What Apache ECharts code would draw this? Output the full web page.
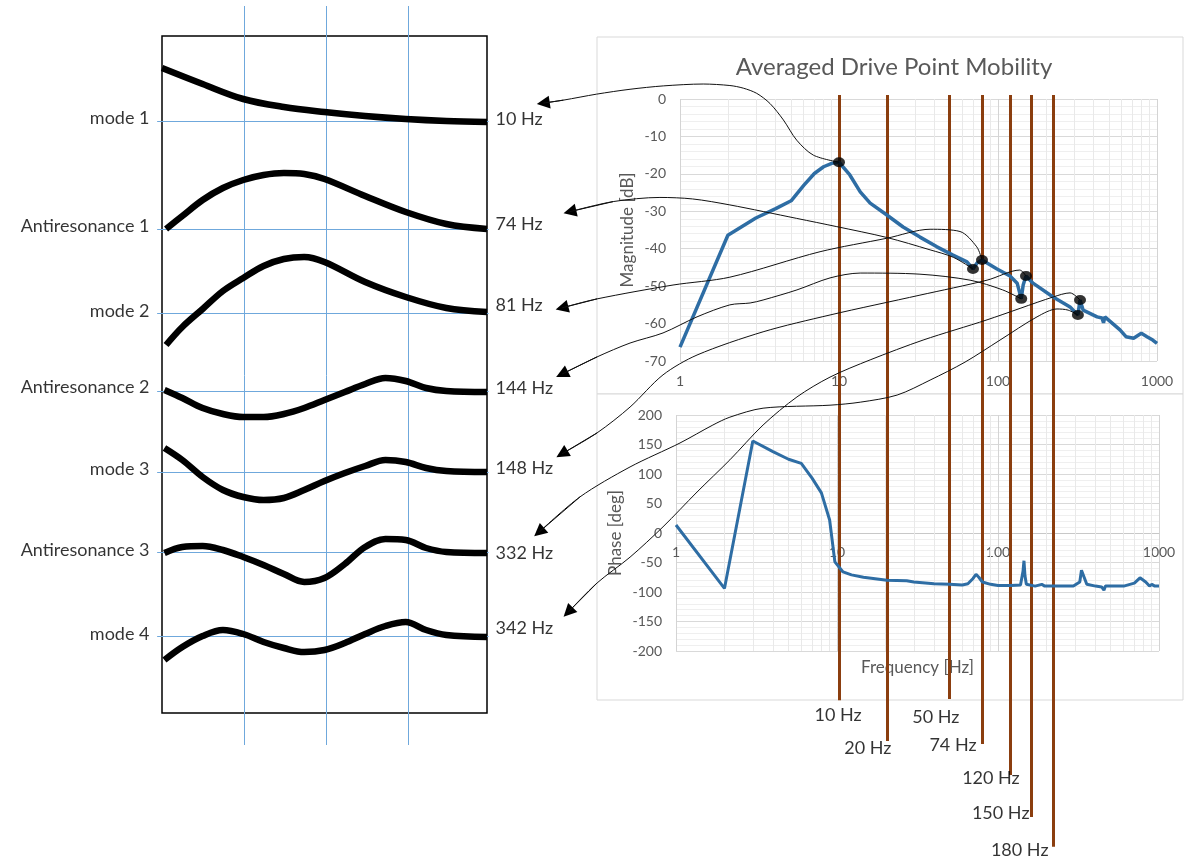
<!DOCTYPE html>
<html><head><meta charset="utf-8">
<script src="https://cdn.jsdelivr.net/npm/echarts@6/dist/echarts.min.js"></script>
<style>html,body{margin:0;padding:0;background:#fff}#c{width:1187px;height:858px}</style>
</head><body><div id="c"></div>
<script>
// ---------------- DATA ----------------
// Left panel: mode shapes (x along structure, displacement in panel units, up = positive)
const shapeNames = ['mode 1','Antiresonance 1','mode 2','Antiresonance 2','mode 3','Antiresonance 3','mode 4'];
const shapeFreqLabels = ['10 Hz','74 Hz','81 Hz','144 Hz','148 Hz','332 Hz','342 Hz'];
const shapeBaselines = [85,193,277,355,436,516,600];
const shapeNameRows  = [82,190,275,351,433,514,598];
const shapeFreqRows  = [83,188,269,352,432,517,592];
const gridLinesX = [1.01,2.02,3.03];
const xA = [0,0.5,1,1.5,2,2.5,3,3.5,4];
const xB = [0.05,0.25,0.5,0.75,1,1.25,1.5,1.75,2,2.5,3,3.5,4];
const xC = [0.03,0.25,0.5,0.75,1,1.25,1.5,1.75,2,2.25,2.5,2.75,3,3.25,3.5,4];
const mode1 = [53,37,22,14,9,5,2,0,-1];
const anti1 = [0,13,29,41,49,54,56,55,50,33,17,5,0];
const mode2 = [-32,-14,4,22,35,47,54,56,51,31,16,5,1];
const anti2 = [1,-7,-17,-23,-26,-26,-23,-17,-9,-1,7,13,10,3,0,-1];
const mode3 = [24,12,-5,-18,-25,-28,-26,-18,-9,-1,6,12,10,4,1,0];
const anti3 = [-1,5,6,2,-5,-13,-22,-30,-26,-12,5,13,12,4,0,-1];
const mode4 = [-24,-11,0,6,2,-6,-12,-16,-14,-7,2,10,14,6,1,-1];

// Right panel: averaged drive point mobility
const magFreq = [1,2,3,4,5,6,7,8,9,10,11.7,13.6,15.7,20,25.3,32.3,41.3,52.1,63.8,69.6,73.8,79.3,98.6,119,132,140,144,150,166,222,284,318,328,343,420,451,461,470,585,638,713,797,865,940,1000];
const magDb   = [-66.3,-36.4,-31.8,-29.3,-27.2,-23.1,-19.9,-18.1,-17.2,-16.9,-20.3,-24.8,-27.8,-31.0,-34.2,-36.9,-39.5,-41.7,-43.5,-45.4,-43.8,-43.0,-45.4,-47.3,-49.2,-53.4,-49.7,-47.3,-49.2,-52.9,-55.6,-57.7,-53.7,-56.4,-58.2,-58.5,-59.8,-58.2,-61.7,-63.5,-63.9,-62.6,-63.5,-64.4,-65.3];
const phFreq = [1,2,3,4,5,6,7,8,9,9.7,10.9,12.3,14.6,20.4,27.1,30,40,50,60,65,70,73,76,80,90,100,120,138,143,145,147,150,170,187,195,245,294,322,330,356,404,440,455,465,604,703,762,827,873,902,942,1000];
const phDeg  = [13.6,-94,156,138,125,118,93,68,22,-49,-66,-71,-75,-80,-81,-83,-86,-87,-88,-86,-77,-70,-75,-83,-87,-89,-89,-88,-65,-47,-72,-87,-90,-87,-90,-90,-90,-83,-63,-87,-90,-91.5,-97,-90,-90,-85,-76,-83,-90,-87,-90,-90];
const dotFreq = [10,69.6,79.3,140,150,318,328];
const minorFreq = [2,3,4,5,6,7,8,9,20,30,40,50,60,70,80,90,200,300,400,500,600,700,800,900];

// Marker lines (frequency) and their labels
const markerFreq  = [10,20,49.5,79.3,119,163,224];
const markerEndDb = [-160.6,-171.5,-160.3,-172.3,-180.6,-191.8,-199.8];
const markerLabels = ['10 Hz','20 Hz','50 Hz','74 Hz','120 Hz','150 Hz','180 Hz'];
const markerLabelAt = [[9.86,-164.6],[15.2,-173.4],[40.7,-165.1],[52.1,-172.6],[90.3,-181.4],[104,-190.8],[137,-200.6]];

// Connector paths [frequency, dB] from each dot to its label
const arrowTo10  = [[6.90,-15.0],[5.42,-11.0],[4.47,-5.6],[3.68,-1.2],[3.04,1.5],[2.50,2.9],[2.06,3.6],[1.40,4.0],[0.785,3.5],[0.485,2.6],[0.299,1.3],[0.185,-0.3],[0.138,-1.1]];
const arrowTo74  = [[52.4,-42.3],[37.4,-40.3],[20,-37],[9.68,-34.1],[5.42,-31.9],[2.06,-28.3],[1.2,-26.7],[0.748,-26.3],[0.381,-27.4],[0.203,-30.1]];
const arrowTo81  = [[73.5,-39.5],[57.7,-35.4],[37.4,-34.8],[20,-37.2],[7.6,-40.8],[2.06,-47.6],[0.904,-49.7],[0.301,-53.4],[0.181,-55.8]];
const arrowTo144 = [[107,-51.0],[66.7,-48.4],[32.3,-46.8],[13.6,-46.5],[8.78,-47.8],[5.44,-51.0],[3.33,-53.7],[2.76,-54.5],[2.06,-55.0],[1.28,-58.2],[0.782,-62.5],[0.485,-65.2],[0.301,-68.9],[0.181,-73.5]];
const arrowTo148 = [[137,-45.7],[85.3,-48.4],[32.3,-52.4],[8.78,-57.7],[3.33,-62.2],[1.28,-68.4],[0.782,-73.7],[0.485,-82.3],[0.301,-89.2],[0.181,-94.8]];
const arrowTo332 = [[276,-56.4],[235,-56.1],[176,-58.2],[103,-64.4],[62.0,-70.3],[37.4,-75.1],[23.2,-79.1],[13.6,-81.0],[8.78,-81.8],[3.33,-82.6],[2.06,-85.0],[1.61,-87.1],[1.0,-91.9],[0.485,-98.3],[0.235,-106.3],[0.130,-115.7]];
const arrowTo342 = [[284,-51.8],[222,-52.9],[85.3,-59.0],[33.8,-64.4],[15.7,-69.7],[8.78,-74.3],[5.44,-79.6],[3.33,-87.1],[2.06,-96.4],[1.28,-105.0],[0.782,-114.3],[0.485,-122.4],[0.301,-129.3],[0.198,-137.1]];

// ---------------- BUILD ----------------
const FONT = 'Lato, "Open Sans", sans-serif';
const GREY = '#595959';
const BLUE = '#2e6da4';
const zip = (a,b) => a.map((v,i)=>[v,b[i]]);
const magAt = f => magDb[magFreq.indexOf(f)];
const dots = dotFreq.map(f => [f, magAt(f)]);
const toDec = ([f,d]) => [Math.log10(f), d];   // overlay axis works in decades of frequency
const arrows = [arrowTo10,arrowTo74,arrowTo81,arrowTo144,arrowTo148,arrowTo332,arrowTo342]
  .map((p,i)=> [dots[i]].concat(p).map(toDec));

const shapes = [[xA,mode1],[xB,anti1],[xB,mode2],[xC,anti2],[xC,mode3],[xC,anti3],[xC,mode4]];
const OV = 5; // overlay axis index (same scale as magnitude plot, wider extent)

const series = [];
// minor vertical grid lines
series.push({type:'lines', coordinateSystem:'cartesian2d', xAxisIndex:3, yAxisIndex:3, silent:true, z:1,
  lineStyle:{color:'#e9e9e9', width:1, opacity:1}, data: minorFreq.map(f=>({coords:[[f,0],[f,-70]]}))});
series.push({type:'lines', coordinateSystem:'cartesian2d', xAxisIndex:4, yAxisIndex:4, silent:true, z:1,
  lineStyle:{color:'#e9e9e9', width:1, opacity:1}, data: minorFreq.map(f=>({coords:[[f,200],[f,-200]]}))});
// left panel blue guide lines
series.push({type:'lines', coordinateSystem:'cartesian2d', xAxisIndex:2, yAxisIndex:2, silent:true, z:1, clip:false,
  lineStyle:{color:'#6fa8dc', width:1, opacity:1}, data: gridLinesX.map(v=>({coords:[[v,-30],[v,709]]}))});
series.push({type:'lines', coordinateSystem:'cartesian2d', xAxisIndex:2, yAxisIndex:2, silent:true, z:1, clip:false,
  lineStyle:{color:'#6fa8dc', width:1, opacity:1}, data: shapeBaselines.map(b=>({coords:[[-0.06,b],[4.02,b]]}))});
// mode shapes
shapes.forEach(([xs,ds],i)=>{
  series.push({type:'line', xAxisIndex:2, yAxisIndex:2, smooth:0.35, symbol:'none', z:3, clip:false,
    lineStyle:{color:'#000', width:6.5, cap:'butt'},
    data: xs.map((x,k)=>[x, shapeBaselines[i]-ds[k]])});
});
// left / right labels
series.push({type:'scatter', xAxisIndex:2, yAxisIndex:2, symbolSize:1, clip:false, silent:true, itemStyle:{color:'transparent'},
  label:{show:true, position:'left', distance:12, formatter:'{b}', color:'#000', fontSize:18, fontFamily:FONT},
  data: shapeNames.map((n,i)=>({name:n, value:[0,shapeNameRows[i]]}))});
series.push({type:'scatter', xAxisIndex:2, yAxisIndex:2, symbolSize:1, clip:false, silent:true, itemStyle:{color:'transparent'},
  label:{show:true, position:'right', distance:8, formatter:'{b}', color:'#000', fontSize:18, fontFamily:FONT},
  data: shapeFreqLabels.map((n,i)=>({name:n, value:[4,shapeFreqRows[i]]}))});
// marker (brown) lines
series.push({type:'lines', coordinateSystem:'cartesian2d', xAxisIndex:OV, yAxisIndex:OV, silent:true, z:2, clip:false,
  lineStyle:{color:'#8b3e0f', width:3, opacity:1},
  data: markerFreq.map((f,i)=>({coords:[toDec([f,1.1]), toDec([f,markerEndDb[i]])]}))});
series.push({type:'scatter', xAxisIndex:OV, yAxisIndex:OV, symbolSize:1, clip:false, silent:true, itemStyle:{color:'transparent'},
  label:{show:true, position:'inside', formatter:'{b}', color:'#000', fontSize:18, fontFamily:FONT},
  data: markerLabels.map((n,i)=>({name:n, value:toDec(markerLabelAt[i])}))});
// FRF curves
series.push({type:'line', xAxisIndex:3, yAxisIndex:3, symbol:'none', z:3, lineStyle:{color:BLUE, width:3.5}, data: zip(magFreq,magDb)});
series.push({type:'line', xAxisIndex:4, yAxisIndex:4, symbol:'none', z:3, lineStyle:{color:BLUE, width:3}, data: zip(phFreq,phDeg)});
// connectors
arrows.forEach(p=>{
  series.push({type:'line', xAxisIndex:OV, yAxisIndex:OV, symbol:'none', smooth:0.3, clip:false, z:4, silent:true,
    lineStyle:{color:'#111', width:1}, data:p});
});
series.push({type:'lines', coordinateSystem:'cartesian2d', xAxisIndex:OV, yAxisIndex:OV, silent:true, z:4, clip:false,
  symbol:['none','triangle'], symbolSize:[10,13],
  lineStyle:{color:'#000', width:1, opacity:1},
  data: arrows.map(p=>({coords:[p[p.length-2], p[p.length-1]]}))});
// dots
series.push({type:'scatter', xAxisIndex:3, yAxisIndex:3, symbol:'circle', symbolSize:[12,10], z:5, clip:false,
  itemStyle:{color:'#000'}, data: dots});

const hiddenAxis = (gi, extra) => Object.assign({gridIndex:gi, type:'value', show:false, min:0, max:1}, extra||{});
const fmtLog = v => String(v);

const option = {
  animation:false,
  textStyle:{fontFamily:FONT},
  title:{text:'Averaged Drive Point Mobility', left:894, top:55, textAlign:'center', padding:0,
    textStyle:{color:GREY, fontSize:24, fontWeight:'normal', fontFamily:FONT}},
  grid:[
    {left:597, top:37, width:586, height:357, show:true, borderColor:'#d9d9d9', borderWidth:1, backgroundColor:'#fff'},
    {left:597, top:394, width:586, height:306, show:true, borderColor:'#d9d9d9', borderWidth:1, backgroundColor:'#fff'},
    {left:162, top:36, width:325, height:677, show:true, borderColor:'#000', borderWidth:1.5, backgroundColor:'transparent'},
    {left:680, top:99, width:477, height:262},
    {left:676, top:415, width:483, height:236},
    // overlay sharing the magnitude plot's scale: x in decades (-1..3), y in dB (-202..10)
    {left:521, top:61.57, width:636, height:793.52}
  ],
  xAxis:[
    hiddenAxis(0), hiddenAxis(1), hiddenAxis(2,{min:0,max:4}),
    {gridIndex:3, type:'log', logBase:10, min:1, max:1000,
      axisLine:{show:false, onZero:false}, axisTick:{show:false},
      axisLabel:{color:GREY, fontSize:14, margin:13, formatter:fmtLog},
      splitLine:{show:true, lineStyle:{color:'#d4d4d4', width:1}}},
    {gridIndex:4, type:'log', logBase:10, min:1, max:1000, offset:-118,
      axisLine:{show:true, onZero:false, lineStyle:{color:'#c8c8c8', width:1}}, axisTick:{show:false},
      axisLabel:{color:GREY, fontSize:14, margin:12, formatter:fmtLog},
      splitLine:{show:true, lineStyle:{color:'#d4d4d4', width:1}},
      name:'Frequency [Hz]', nameLocation:'middle', nameGap:126,
      nameTextStyle:{color:GREY, fontSize:17, fontFamily:FONT}},
    hiddenAxis(5,{min:-1,max:3})
  ],
  yAxis:[
    hiddenAxis(0), hiddenAxis(1), hiddenAxis(2,{min:0,max:677,inverse:true}),
    {gridIndex:3, type:'value', min:-70, max:0, interval:10,
      axisLine:{show:false}, axisTick:{show:false},
      axisLabel:{color:GREY, fontSize:14, margin:14},
      splitLine:{show:true, lineStyle:{color:'#d9d9d9', width:1}},
      minorTick:{show:false, splitNumber:5}, minorSplitLine:{show:true, lineStyle:{color:'#efefef', width:1}},
      name:'Magnitude [dB]', nameLocation:'middle', nameGap:44,
      nameTextStyle:{color:GREY, fontSize:17, fontFamily:FONT}},
    {gridIndex:4, type:'value', min:-200, max:200, interval:50,
      axisLine:{show:false}, axisTick:{show:false},
      axisLabel:{color:GREY, fontSize:14, margin:14},
      splitLine:{show:true, lineStyle:{color:'#d9d9d9', width:1}},
      minorTick:{show:false, splitNumber:5}, minorSplitLine:{show:true, lineStyle:{color:'#efefef', width:1}},
      name:'Phase [deg]', nameLocation:'middle', nameGap:52,
      nameTextStyle:{color:GREY, fontSize:17, fontFamily:FONT}},
    hiddenAxis(5,{min:-202,max:10})
  ],
  series: series
};
const chart = echarts.init(document.getElementById('c'));
chart.setOption(option);
</script>
</body></html>
